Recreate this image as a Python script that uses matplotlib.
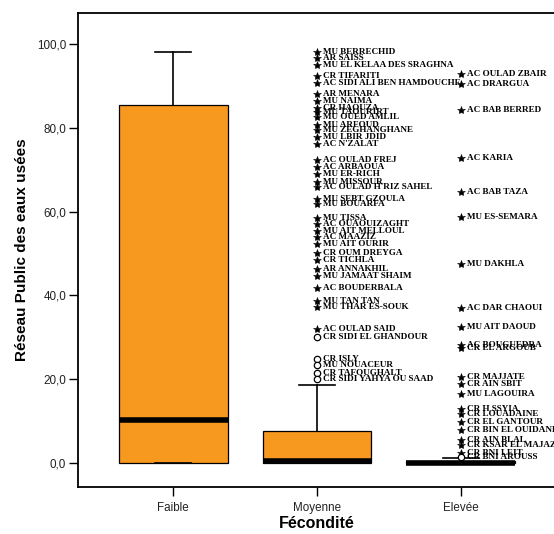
import matplotlib
matplotlib.use("Agg")
import matplotlib.pyplot as plt

# Box statistics per fertility class
categories = ["Faible", "Moyenne", "Elevée"]
q1 = [0.0, 0.0, 0.0]
medians = [10.4, 0.4, 0.0]
q3 = [85.5, 7.6, 0.5]
whisker_low = [0.0, 0.0, 0.0]
whisker_high = [98.2, 18.6, 1.2]

# Labelled outlying communes, class "Moyenne"
moyenne_names = [
    "MU BERRECHID", "AR SAISS", "MU EL KELAA DES SRAGHNA", "CR TIFARITI",
    "AC SIDI ALI BEN HAMDOUCHE", "AR MENARA", "MU NAIMA", "CR HAOUZA",
    "MU TAOURIRT", "MU OUED AMLIL", "MU ARFOUD", "MU ZEGHANGHANE",
    "MU LBIR JDID", "AC N'ZALAT", "AC OULAD FREJ", "AC ARBAOUA",
    "MU ER-RICH", "MU MISSOUR", "AC OULAD H'RIZ SAHEL", "MU SEBT GZOULA",
    "MU BOUARFA", "MU TISSA", "AC OUAOUIZAGHT", "MU AIT MELLOUL",
    "AC MAAZIZ", "MU AIT OURIR", "CR OUM DREYGA", "CR TICHLA",
    "AR ANNAKHIL", "MU JAMAAT SHAIM", "AC BOUDERBALA", "MU TAN TAN",
    "MU THAR ES-SOUK", "AC OULAD SAID", "CR SIDI EL GHANDOUR", "CR ISLY",
    "MU NOUACEUR", "CR TAFOUGHALT", "CR SIDI YAHYA OU SAAD",
]
moyenne_values = [
    98.1, 96.7, 95.0, 92.4,
    90.8, 88.0, 86.3, 84.8,
    83.7, 82.6, 80.7, 79.5,
    77.7, 76.1, 72.3, 70.7,
    69.1, 67.1, 65.9, 63.0,
    61.8, 58.6, 57.0, 55.4,
    53.9, 52.3, 50.2, 48.4,
    46.2, 44.6, 41.9, 38.7,
    37.3, 31.9, 30.0, 24.8,
    23.4, 21.4, 20.0,
]

# Labelled outlying communes, class "Elevée"
elevee_names = [
    "AC OULAD ZBAIR", "AC DRARGUA", "AC BAB BERRED", "AC KARIA",
    "AC BAB TAZA", "MU ES-SEMARA", "MU DAKHLA", "AC DAR CHAOUI",
    "MU AIT DAOUD", "AC BOUGUEDRA", "CR EL ARGOUB", "CR MAJJATE",
    "CR AIN SBIT", "MU LAGOUIRA", "CR H SSYIA", "CR LOUADAINE",
    "CR EL GANTOUR", "CR BIN EL OUIDANE", "CR AIN BLAL", "CR KSAR EL MAJAZ",
    "CR BNI LEIT", "CR BNI AROUSS",
]
elevee_values = [
    92.9, 90.5, 84.2, 72.7,
    64.7, 58.8, 47.5, 36.9,
    32.4, 28.3, 27.4, 20.5,
    18.9, 16.5, 12.8, 11.6,
    9.9, 7.9, 5.5, 4.3,
    2.5, 1.4,
]

BOX_COLOR = "#F7981F"
LABEL_FONT = ["Liberation Serif", "DejaVu Serif"]
AXIS_FONT = ["Liberation Sans", "DejaVu Sans"]

fig = plt.figure(figsize=(5.54, 5.34), dpi=100)
ax = fig.add_axes([0.1408, 0.088, 0.8628, 0.8877])

positions = [1, 2, 3]
stats = []
for i, name in enumerate(categories):
    stats.append(dict(label=name, q1=q1[i], med=medians[i], q3=q3[i],
                      whislo=whisker_low[i], whishi=whisker_high[i], fliers=[]))

ax.bxp(stats, positions=positions, widths=0.757, capwidths=0.245,
       patch_artist=True, showfliers=False,
       boxprops=dict(facecolor=BOX_COLOR, edgecolor="black", linewidth=0.9),
       medianprops=dict(color="black", linewidth=4.0, solid_capstyle="butt"),
       whiskerprops=dict(color="black", linewidth=1.2),
       capprops=dict(color="black", linewidth=1.2))


def draw_outliers(pos, idx, names, values):
    iqr = q3[idx] - q1[idx]
    extreme = q3[idx] + 3 * iqr
    for name, v in zip(names, values):
        if v > extreme:
            ax.plot(pos, v, marker="*", markersize=6.0, color="black",
                    markeredgewidth=0.4, linestyle="none", zorder=4)
        else:
            ax.plot(pos, v, marker="o", markersize=4.6, markerfacecolor="white",
                    markeredgecolor="black", markeredgewidth=0.9,
                    linestyle="none", zorder=4)
        ax.annotate(name, xy=(pos, v), xytext=(4.0, 0), textcoords="offset points",
                    ha="left", va="center", fontsize=6.6, fontweight="bold",
                    family=LABEL_FONT, color="black", zorder=5)


draw_outliers(2, 1, moyenne_names, moyenne_values)
draw_outliers(3, 2, elevee_names, elevee_values)

ax.set_xlim(0.34, 3.66)
ax.set_ylim(-5.7, 107.4)
ax.set_xticks(positions)
ax.set_xticklabels(categories)
ax.set_yticks([0, 20, 40, 60, 80, 100])
ax.set_yticklabels(["0,0", "20,0", "40,0", "60,0", "80,0", "100,0"])

for lab in ax.get_xticklabels() + ax.get_yticklabels():
    lab.set_family(AXIS_FONT)
    lab.set_fontsize(8.4)
    lab.set_color("#222222")

ax.tick_params(axis="both", direction="out", length=6.5, width=1.0, color="black", pad=2)
ax.tick_params(axis="x", pad=4)

for side in ["left", "bottom", "top", "right"]:
    ax.spines[side].set_linewidth(1.3)
    ax.spines[side].set_color("black")

ax.set_xlabel("Fécondité", fontsize=11.5, fontweight="bold", family=AXIS_FONT, labelpad=2)
ax.set_ylabel("Réseau Public des eaux usées", fontsize=11, fontweight="bold",
              family=AXIS_FONT, labelpad=6)

fig.savefig("out.png", dpi=100)
